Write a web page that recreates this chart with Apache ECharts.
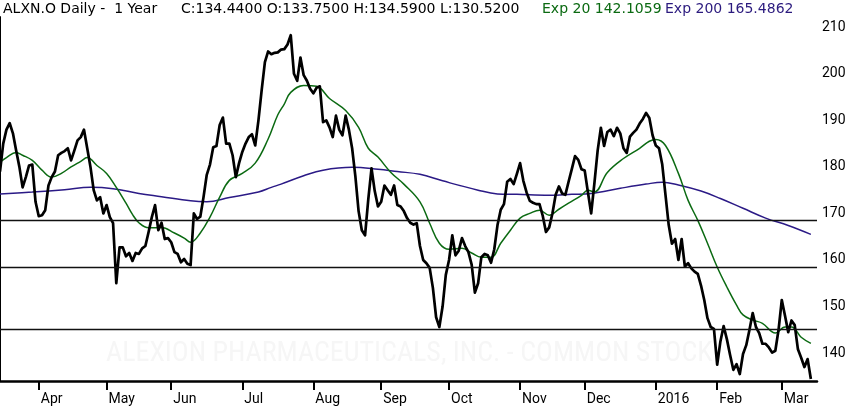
<!DOCTYPE html>
<html><head><meta charset="utf-8">
<script src="https://cdn.jsdelivr.net/npm/echarts@6/dist/echarts.min.js"></script>
<style>html,body{margin:0;padding:0;background:#fff}#c{width:850px;height:407px}</style>
</head><body><div id="c"></div>
<script>
// ---- data ----
const startDate = '2015-03-16';
const endDate = '2016-03-14';
const holidays = ['2015-04-03','2015-05-25','2015-07-03','2015-09-07','2015-11-26','2015-12-25','2016-01-01','2016-01-18','2016-02-15'];
const monthNames = ['Jan','Feb','Mar','Apr','May','Jun','Jul','Aug','Sep','Oct','Nov','Dec'];
const close = [
179,185,188,189.4,187.2,183.5,180,175.6,177.8,180.3,
180.5,172.5,169.4,169.6,170.7,176,177.8,179,182.5,183,
183.4,184,181.4,183.5,185.7,186.4,188,184,180,175,
172.8,173.5,170,171.8,169.2,167.9,155,162.7,162.7,160.8,
161.5,159.8,161.5,161.3,162.5,163,166,169.2,171.8,166.4,
168,164.5,164.7,163.8,161.7,161.3,159.5,160.2,159.2,158.9,
170,168.8,169.3,173.5,178.3,180.5,184.2,184.5,189,190.6,
185,185,182.5,177.8,180.8,183.2,185,186.4,187,184.6,
190,196.5,202.5,204.8,204.2,204.5,204.6,205.2,205.3,206.3,
208.3,200,198.5,203.5,199.7,198.5,196.8,195.8,197,197.3,
189.6,190,188.5,186.4,191,188,186.8,191,188,184,
178,170.5,166.4,165.3,173,179.7,174.8,171.5,172.5,176,
175,174,176,171.8,171.5,170.5,169,168,167.6,167.9,
163,160,159.3,158.3,154,147.7,145.6,150,156.8,160,
165.3,161,162,164.7,163,161.7,159,153,155,160.6,
161.3,161,159.4,162.3,167.5,170.8,172,176.8,177.4,176.3,
178.5,180.8,177,174.5,172.7,172.3,172,172,169.5,166,
167,170,174,175.8,174.3,174,176.8,179.5,182.3,181.5,
179.5,179.2,174.5,170,176.5,183.5,188.4,184.5,187.5,188,
186.6,188.4,187.2,184,183,186.5,187.3,188,189.3,190.3,
191.6,190.5,186.8,184.6,184,180.5,174,167.5,163.5,164.5,
160,164.5,158.6,159.3,158.2,157.5,157,154.5,151.4,147.5,
145.6,145.2,137.5,142.5,145.8,143,139.6,136.4,137.6,135.5,
139.8,141.7,145,148.6,145.6,144.3,142,142,141.2,140.1,
140.5,145,151.4,148,144.5,147,146,140.8,139,137,
138.7,134.44
];
const ema20Idx = [0,2,5,7,10,13,16,19,22,25,27,30,33,36,39,41,43,46,50,54,57,59,62,65,68,71,75,79,83,86,88,90,94,98,102,107,111,114,117,121,125,130,133,136,139,143,146,149,152,155,158,161,164,167,170,173,176,180,182,184,188,193,198,201,203,206,210,213,216,219,222,225,228,230,233,236,240,243,245,248,251];
const ema20Val = [181,182,183.1,182.5,181.4,179.3,177.8,178.6,180,181.2,182,180.3,178.6,175.6,172.2,169.8,168,166.9,167,165.8,164.7,163.8,165.8,169.2,173.5,177.1,178.6,180.8,186,191.2,193.5,196,197.5,197.3,194.7,192.1,188.5,184,182.1,178.8,176.3,172.5,167.9,163.6,162.3,162.5,161.5,160.6,160.6,163.6,166.4,169,170,170.7,169.6,170.9,172.2,173.9,175,174.6,178.8,181.8,184,185.5,185.9,184.6,178.6,172.8,168.5,163.6,158.5,154.2,150.3,148.2,147.1,146.4,144.3,145.6,145.6,143.4,142.1];
const ema200Idx = [0,10,20,28,35,43,50,59,64,71,80,84,87,94,100,109,117,123,130,137,148,154,160,170,177,183,192,200,205,210,217,223,230,237,244,251];
const ema200Val = [174.2,174.6,175.1,175.6,175.3,174.3,173.6,172.7,172.5,173.4,174.6,175.6,176.3,178.1,179.3,179.9,179.5,179,178.4,177,175,174.2,174.1,173.9,174.1,174.3,175.4,176.3,176.7,176.1,174.8,173.2,171.1,169,167.4,165.49];
const levels = [168.6, 158.5, 145.2];
const yTicks = [140,150,160,170,180,190,200,210];
const headerTitle = 'ALXN.O Daily -  1 Year';
const ohlc = ['C:134.4400','O:133.7500','H:134.5900','L:130.5200'];
const expLabels = ['Exp 20 142.1059','Exp 200 165.4862'];
const watermark = 'ALEXION PHARMACEUTICALS, INC. - COMMON STOCK';

// ---- trading calendar ----
const dates = [];
(function(){
  const d = new Date(startDate + 'T00:00:00Z');
  const end = new Date(endDate + 'T00:00:00Z');
  while (d <= end) {
    const wd = d.getUTCDay();
    const s = d.toISOString().slice(0,10);
    if (wd !== 0 && wd !== 6 && holidays.indexOf(s) < 0) dates.push(s);
    d.setUTCDate(d.getUTCDate() + 1);
  }
})();
const monthIdx = [];
const monthLab = {};
for (let i = 1; i < dates.length; i++) {
  if (dates[i].slice(5,7) !== dates[i-1].slice(5,7)) {
    monthIdx.push(i);
    const m = parseInt(dates[i].slice(5,7),10) - 1;
    monthLab[i] = m === 0 ? dates[i].slice(0,4) : monthNames[m];
  }
}

const chart = echarts.init(document.getElementById('c'), null, {renderer:'canvas'});
const xMax = close.length - 1 + 1.9;
chart.setOption({
  animation: false,
  backgroundColor: '#fff',
  grid: {left: 0, right: 33, top: 17, bottom: 26, containLabel: false},
  graphic: [
    {type:'text', left: 3, top: 2, style:{text: headerTitle, font: '14px "DejaVu Sans"', fill:'#000'}},
    {type:'text', left: 181, top: 2, style:{text: ohlc.join(' '), font: '14px "DejaVu Sans"', fill:'#000'}},
    {type:'text', left: 542, top: 2, style:{text: expLabels[0], font: '14px "DejaVu Sans"', fill:'#0b6a12'}},
    {type:'text', left: 665, top: 2, style:{text: expLabels[1], font: '14px "DejaVu Sans"', fill:'#2b1a7e'}},
    {type:'text', left: 106, top: 340, z: -1, style:{text: watermark, font: '28px "Liberation Sans Narrow", "Roboto Condensed", Roboto', fill:'#f6f6f6'}}
  ],
  xAxis: {
    type: 'value', min: 0, max: xMax,
    axisLine: {show: true, onZero: false, lineStyle: {color: '#000', width: 2.5}},
    axisTick: {show: true, customValues: monthIdx, length: 9, lineStyle: {color: '#000', width: 2}},
    axisLabel: {customValues: monthIdx, formatter: v => monthLab[v] || '', align: 'left', margin: 11,
      padding: [0,0,0,2], color: '#000', fontFamily: 'Roboto', fontSize: 14},
    splitLine: {show: false}
  },
  yAxis: {
    type: 'value', position: 'right', min: 134, max: 212.2,
    axisLine: {show: true, lineStyle: {color: '#000', width: 2}},
    axisTick: {show: false},
    axisLabel: {customValues: yTicks, color: '#000', fontFamily: 'Roboto', fontSize: 14, margin: 5},
    splitLine: {show: false}
  },
  series: [
    {
      name: 'Exp 200', type: 'line', smooth: 0.4, showSymbol: false, z: 3,
      data: ema200Idx.map((x,i) => [x, ema200Val[i]]),
      lineStyle: {color: '#2b1a86', width: 1.5}
    },
    {
      name: 'Exp 20', type: 'line', smooth: 0.4, showSymbol: false, z: 3,
      data: ema20Idx.map((x,i) => [x, ema20Val[i]]),
      lineStyle: {color: '#0b6a12', width: 1.5}
    },
    {
      name: 'ALXN.O', type: 'line', showSymbol: false, z: 4,
      data: close.map((v,i) => [i, v]),
      lineStyle: {color: '#000', width: 2.7, join: 'round'},
      markLine: {
        silent: true, symbol: ['none','none'], label: {show: false},
        lineStyle: {color: '#111', type: 'solid', width: 1.4},
        data: levels.map(v => ({yAxis: v}))
      }
    }
  ]
});
</script></body></html>
